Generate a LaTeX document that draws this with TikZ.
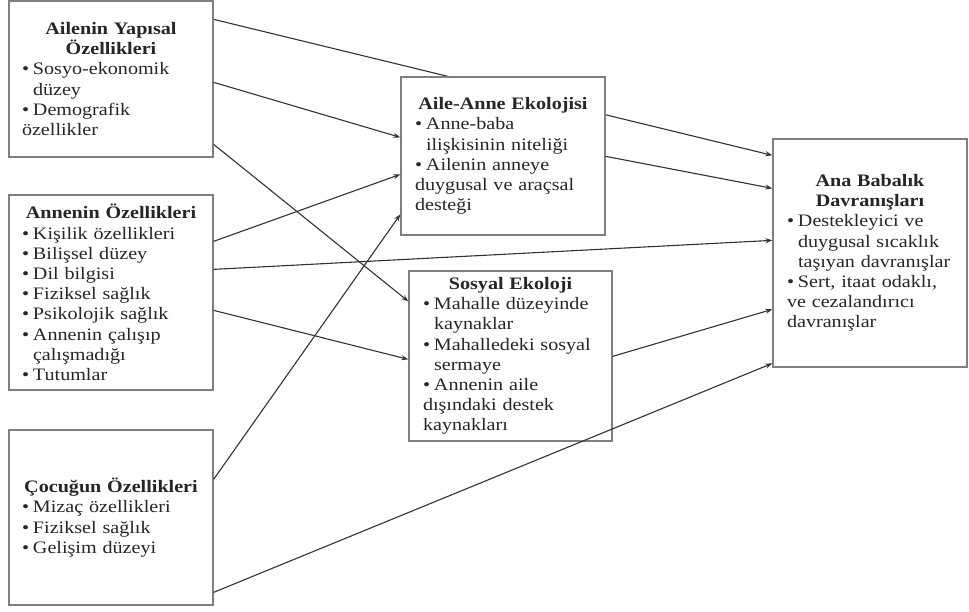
\documentclass[tikz,border=0pt]{standalone}
\usepackage{fontspec}
\setmainfont{Liberation Serif}[FakeStretch=1.15]
\usetikzlibrary{arrows.meta,calc}
\pgfdeclarelayer{bg}
\pgfsetlayers{bg,main}
\newcommand{\bitem}{\par\hangindent=11pt\hangafter=1\noindent\makebox[11pt][l]{\textbullet}}
\newcommand{\btitle}[1]{{\centering\bfseries #1\par}}
\tikzset{
  boxnode/.style={draw=black!50, line width=1.3pt, fill=white, inner sep=0pt,
    font=\fontsize{17.5}{20.2}\selectfont, text=black!85},
  conn/.style={draw=black!80, line width=1.1pt, -{Stealth[length=7pt,width=5pt]}}
}
\begin{document}
\begin{tikzpicture}[x=1pt,y=1pt]
\useasboundingbox (0,0) rectangle (969,-611);
\begin{pgfonlayer}{bg}
\fill[white] (0,0) rectangle (969,-611);
\end{pgfonlayer}

\node[boxnode, minimum width=204pt, minimum height=156pt, text width=178pt] (b1) at (111,-79)
 {\btitle{Ailenin Yapısal\\Özellikleri}
  \bitem Sosyo-ekonomik\newline düzey
  \bitem Demografik\newline özellikler};

\node[boxnode, minimum width=204pt, minimum height=195pt, text width=178pt] (b2) at (111,-292.5)
 {\btitle{Annenin Özellikleri}
  \bitem Kişilik özellikleri
  \bitem Bilişsel düzey
  \bitem Dil bilgisi
  \bitem Fiziksel sağlık
  \bitem Psikolojik sağlık
  \bitem Annenin çalışıp\newline çalışmadığı
  \bitem Tutumlar};

\node[boxnode, minimum width=204pt, minimum height=175pt, text width=178pt] (b3) at (111,-517.5)
 {\btitle{Çocuğun Özellikleri}
  \bitem Mizaç özellikleri
  \bitem Fiziksel sağlık
  \bitem Gelişim düzeyi};

\node[boxnode, minimum width=204pt, minimum height=158pt, text width=176pt] (aa) at (503,-156)
 {\btitle{Aile-Anne Ekolojisi}
  \bitem Anne-baba\newline ilişkisinin niteliği
  \bitem Ailenin anneye\newline duygusal ve araçsal\newline desteği};

\node[boxnode, minimum width=203pt, minimum height=170pt, text width=175pt] (se) at (510.5,-356)
 {\btitle{Sosyal Ekoloji}
  \bitem Mahalle düzeyinde\newline kaynaklar
  \bitem Mahalledeki sosyal\newline sermaye
  \bitem Annenin aile\newline dışındaki destek\newline kaynakları};

\node[boxnode, minimum width=194pt, minimum height=228pt, text width=166pt] (ab) at (870,-253)
 {\btitle{Ana Babalık\\Davranışları}
  \bitem Destekleyici ve\newline duygusal sıcaklık\newline taşıyan davranışlar
  \bitem Sert, itaat odaklı,\newline ve cezalandırıcı\newline davranışlar};

\begin{pgfonlayer}{bg}
  \draw[conn] ($(b1.north east)+(0,-19)$) -- ($(ab.north west)+(0,-17)$);
\end{pgfonlayer}
\draw[conn] ($(b1.north east)+(0,-82)$) -- ($(aa.north west)+(0,-61)$);
\draw[conn] ($(b1.north east)+(0,-144)$) -- ($(se.north west)+(0,-31)$);
\draw[conn] ($(b2.north east)+(0,-47)$) -- ($(aa.north west)+(0,-98)$);
\draw[conn] ($(b2.north east)+(0,-75)$) -- ($(ab.north west)+(0,-102)$);
\draw[conn] ($(b2.north east)+(0,-116)$) -- ($(se.north west)+(0,-89)$);
\draw[conn] ($(b3.north east)+(0,-50)$) -- ($(aa.north west)+(0,-138)$);
\draw[conn] ($(b3.north east)+(0,-163)$) -- ($(ab.north west)+(0,-225)$);
\draw[conn] ($(aa.north east)+(0,-80)$) -- ($(ab.north west)+(0,-50)$);
\draw[conn] ($(se.north east)+(0,-86)$) -- ($(ab.north west)+(0,-171)$);
\end{tikzpicture}
\end{document}
